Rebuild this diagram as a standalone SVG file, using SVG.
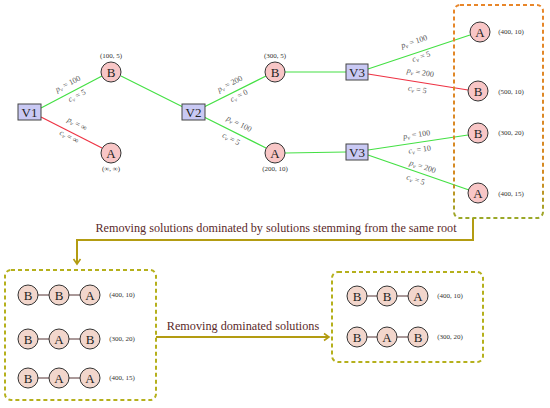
<svg xmlns="http://www.w3.org/2000/svg" width="550" height="408" viewBox="0 0 550 408">
<defs>
<style>
.n circle{fill:#f8c6c6;stroke:#333;stroke-width:1}
.s circle{fill:#f2d6cc;stroke:#333;stroke-width:1}
.t{font-family:"Liberation Serif","DejaVu Serif",serif;font-size:13px;fill:#222;text-anchor:middle}
.v rect{fill:#c9c9f4;stroke:#444;stroke-width:1}
.lbl{font-family:"Liberation Serif","DejaVu Serif",serif;font-size:7px;fill:#333;text-anchor:middle}
.el{font-family:"Liberation Serif","DejaVu Serif",serif;font-size:8px;fill:#555;text-anchor:middle}
.it{font-style:italic}
.sub{font-style:italic;font-size:6px}
.g{stroke:#44e044;stroke-width:1.2;fill:none}
.r{stroke:#ee3344;stroke-width:1.2;fill:none}
.k{stroke:#553333;stroke-width:1;fill:none}
.ar{stroke:#b39c12;stroke-width:2;fill:none}
.cap{font-family:"Liberation Serif","DejaVu Serif",serif;font-size:12.2px;fill:#5a2a2a;text-anchor:middle}
</style>
<linearGradient id="og" x1="0" y1="0" x2="0" y2="1">
<stop offset="0" stop-color="#e8862a"/>
<stop offset="0.8" stop-color="#d48a22"/>
<stop offset="1" stop-color="#9aa828"/>
</linearGradient>
<marker id="ah" markerUnits="userSpaceOnUse" markerWidth="10" markerHeight="10" refX="7" refY="5" orient="auto">
<path d="M2,1.5 L7,5 L2,8.5" stroke="#b39c12" stroke-width="1.6" fill="none"/>
</marker>
</defs>

<g id="connectors">
<line class="g" x1="41" y1="108" x2="102" y2="76"/>
<line class="r" x1="41" y1="117" x2="102" y2="148"/>
<line class="g" x1="121" y1="76" x2="183" y2="107"/>
<line class="g" x1="204" y1="107" x2="266" y2="76"/>
<line class="g" x1="204" y1="117" x2="266" y2="148"/>
<line class="g" x1="285" y1="72" x2="346" y2="72"/>
<line class="g" x1="285" y1="153" x2="346" y2="152"/>
<line class="g" x1="368" y1="69" x2="470" y2="35"/>
<line class="r" x1="368" y1="74" x2="468" y2="90"/>
<line class="g" x1="368" y1="150" x2="468" y2="135"/>
<line class="g" x1="368" y1="155" x2="469" y2="190"/>
<path class="ar" d="M473,218 V240 H77 V264" marker-end="url(#ah)"/>
<line class="ar" x1="156" y1="337" x2="329" y2="337" marker-end="url(#ah)"/>
<line class="k" x1="38" y1="295" x2="49" y2="295"/>
<line class="k" x1="69" y1="295" x2="80" y2="295"/>
<line class="k" x1="38" y1="339" x2="49" y2="339"/>
<line class="k" x1="69" y1="339" x2="80" y2="339"/>
<line class="k" x1="38" y1="378" x2="49" y2="378"/>
<line class="k" x1="69" y1="378" x2="80" y2="378"/>
<line class="k" x1="367" y1="296" x2="377" y2="296"/>
<line class="k" x1="397" y1="296" x2="408" y2="296"/>
<line class="k" x1="367" y1="337" x2="377" y2="337"/>
<line class="k" x1="397" y1="337" x2="408" y2="337"/>
</g>

<g id="edge-labels">
<text class="el" transform="translate(69,86) rotate(-27)"><tspan class="it">p</tspan><tspan class="sub" dy="1.5">v</tspan><tspan dy="-1.5"> = 100</tspan></text>
<text class="el" transform="translate(78,98) rotate(-27)"><tspan class="it">c</tspan><tspan class="sub" dy="1.5">v</tspan><tspan dy="-1.5"> = 5</tspan></text>
<text class="el" transform="translate(76,126) rotate(27)"><tspan class="it">p</tspan><tspan class="sub" dy="1.5">v</tspan><tspan dy="-1.5"> = ∞</tspan></text>
<text class="el" transform="translate(68,139) rotate(27)"><tspan class="it">c</tspan><tspan class="sub" dy="1.5">v</tspan><tspan dy="-1.5"> = ∞</tspan></text>
<text class="el" transform="translate(231,86) rotate(-27)"><tspan class="it">p</tspan><tspan class="sub" dy="1.5">v</tspan><tspan dy="-1.5"> = 200</tspan></text>
<text class="el" transform="translate(240,98) rotate(-27)"><tspan class="it">c</tspan><tspan class="sub" dy="1.5">v</tspan><tspan dy="-1.5"> = 0</tspan></text>
<text class="el" transform="translate(238,126) rotate(27)"><tspan class="it">p</tspan><tspan class="sub" dy="1.5">v</tspan><tspan dy="-1.5"> = 100</tspan></text>
<text class="el" transform="translate(230,141) rotate(27)"><tspan class="it">c</tspan><tspan class="sub" dy="1.5">v</tspan><tspan dy="-1.5"> = 5</tspan></text>
<text class="el" transform="translate(415,44) rotate(-18)"><tspan class="it">p</tspan><tspan class="sub" dy="1.5">v</tspan><tspan dy="-1.5"> = 100</tspan></text>
<text class="el" transform="translate(422,59) rotate(-18)"><tspan class="it">c</tspan><tspan class="sub" dy="1.5">v</tspan><tspan dy="-1.5"> = 5</tspan></text>
<text class="el" transform="translate(420,75) rotate(9)"><tspan class="it">p</tspan><tspan class="sub" dy="1.5">v</tspan><tspan dy="-1.5"> = 200</tspan></text>
<text class="el" transform="translate(417,92) rotate(9)"><tspan class="it">c</tspan><tspan class="sub" dy="1.5">v</tspan><tspan dy="-1.5"> = 5</tspan></text>
<text class="el" transform="translate(417,137) rotate(-8)"><tspan class="it">p</tspan><tspan class="sub" dy="1.5">v</tspan><tspan dy="-1.5"> = 100</tspan></text>
<text class="el" transform="translate(420,152) rotate(-8)"><tspan class="it">c</tspan><tspan class="sub" dy="1.5">v</tspan><tspan dy="-1.5"> = 10</tspan></text>
<text class="el" transform="translate(422,169) rotate(18)"><tspan class="it">p</tspan><tspan class="sub" dy="1.5">v</tspan><tspan dy="-1.5"> = 200</tspan></text>
<text class="el" transform="translate(415,182) rotate(18)"><tspan class="it">c</tspan><tspan class="sub" dy="1.5">v</tspan><tspan dy="-1.5"> = 5</tspan></text>
</g>

<g id="V1" class="v"><rect x="18" y="104" width="23" height="16"/><text class="t" x="29.5" y="117">V1</text></g>
<g id="V2" class="v"><rect x="182" y="104" width="23" height="16"/><text class="t" x="193.5" y="117">V2</text></g>
<g id="V3a" class="v"><rect x="346" y="64" width="22" height="16"/><text class="t" x="357" y="77">V3</text></g>
<g id="V3b" class="v"><rect x="346" y="144" width="22" height="16"/><text class="t" x="357" y="157">V3</text></g>

<g id="n1B" class="n"><circle cx="111" cy="72" r="10"/><text class="t" x="111" y="76.5">B</text><text class="lbl" x="111" y="58">(100, 5)</text></g>
<g id="n1A" class="n"><circle cx="111" cy="153" r="10"/><text class="t" x="111" y="157.5">A</text><text class="lbl" x="111" y="171">(∞, ∞)</text></g>
<g id="n2B" class="n"><circle cx="275" cy="72" r="10"/><text class="t" x="275" y="76.5">B</text><text class="lbl" x="275" y="58">(300, 5)</text></g>
<g id="n2A" class="n"><circle cx="275" cy="153" r="10"/><text class="t" x="275" y="157.5">A</text><text class="lbl" x="275" y="171">(200, 10)</text></g>
<g id="n3A" class="n"><circle cx="480" cy="32" r="10"/><text class="t" x="480" y="36.5">A</text><text class="lbl" x="511" y="34">(400, 10)</text></g>
<g id="n3B" class="n"><circle cx="478" cy="91" r="10"/><text class="t" x="478" y="95.5">B</text><text class="lbl" x="511" y="94">(500, 10)</text></g>
<g id="n4B" class="n"><circle cx="478" cy="133" r="10"/><text class="t" x="478" y="137.5">B</text><text class="lbl" x="511" y="135">(300, 20)</text></g>
<g id="n4A" class="n"><circle cx="478" cy="193" r="10"/><text class="t" x="478" y="197.5">A</text><text class="lbl" x="511" y="196">(400, 15)</text></g>

<g id="box-top"><rect x="454" y="5" width="89" height="213" rx="6" fill="none" stroke="url(#og)" stroke-width="2" stroke-dasharray="4,3"/></g>
<g id="cap1"><text class="cap" x="276" y="232">Removing solutions dominated by solutions stemming from the same root</text></g>
<g id="cap2"><text class="cap" x="243" y="330">Removing dominated solutions</text></g>

<g id="box-left"><rect x="5" y="270" width="151" height="130" rx="6" fill="none" stroke="#b5b01c" stroke-width="2" stroke-dasharray="4,3"/></g>
<g id="row1" class="s"><circle cx="28" cy="295" r="10"/><circle cx="59" cy="295" r="10"/><circle cx="90" cy="295" r="10"/><text class="t" x="28" y="299.5">B</text><text class="t" x="59" y="299.5">B</text><text class="t" x="90" y="299.5">A</text><text class="lbl" x="122" y="297">(400, 10)</text></g>
<g id="row2" class="s"><circle cx="28" cy="339" r="10"/><circle cx="59" cy="339" r="10"/><circle cx="90" cy="339" r="10"/><text class="t" x="28" y="343.5">B</text><text class="t" x="59" y="343.5">A</text><text class="t" x="90" y="343.5">B</text><text class="lbl" x="122" y="341">(300, 20)</text></g>
<g id="row3" class="s"><circle cx="28" cy="378" r="10"/><circle cx="59" cy="378" r="10"/><circle cx="90" cy="378" r="10"/><text class="t" x="28" y="382.5">B</text><text class="t" x="59" y="382.5">A</text><text class="t" x="90" y="382.5">A</text><text class="lbl" x="122" y="380">(400, 15)</text></g>

<g id="box-right"><rect x="332" y="272" width="151" height="90" rx="6" fill="none" stroke="#b5b01c" stroke-width="2" stroke-dasharray="4,3"/></g>
<g id="row4" class="s"><circle cx="357" cy="296" r="10"/><circle cx="387" cy="296" r="10"/><circle cx="418" cy="296" r="10"/><text class="t" x="357" y="300.5">B</text><text class="t" x="387" y="300.5">B</text><text class="t" x="418" y="300.5">A</text><text class="lbl" x="450" y="298">(400, 10)</text></g>
<g id="row5" class="s"><circle cx="357" cy="337" r="10"/><circle cx="387" cy="337" r="10"/><circle cx="418" cy="337" r="10"/><text class="t" x="357" y="341.5">B</text><text class="t" x="387" y="341.5">A</text><text class="t" x="418" y="341.5">B</text><text class="lbl" x="450" y="339">(300, 20)</text></g>
</svg>
